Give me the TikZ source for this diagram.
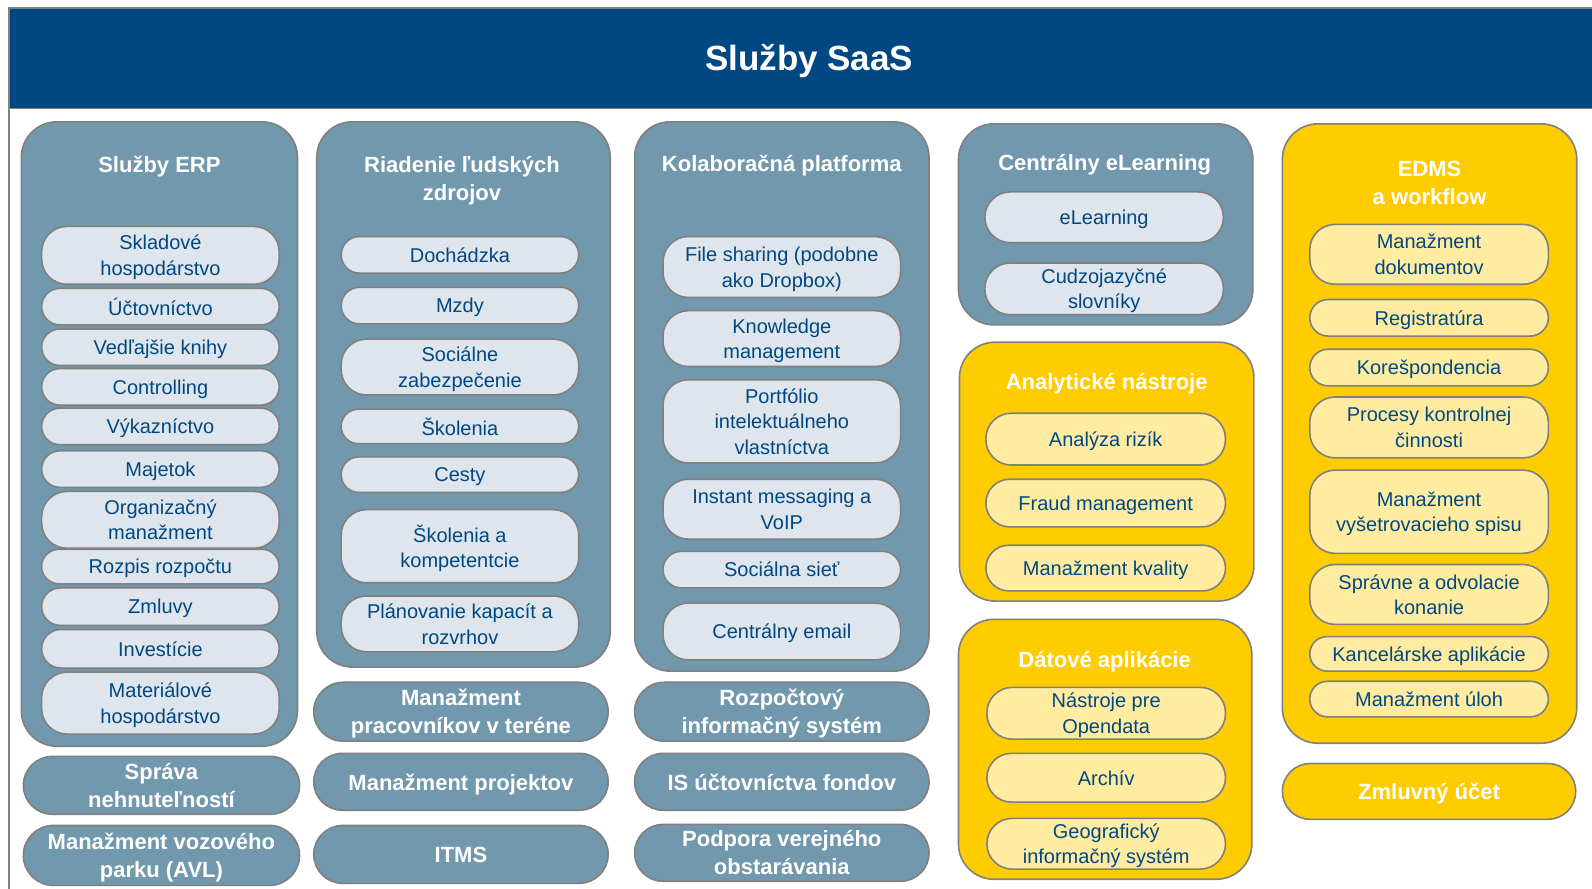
\documentclass[tikz,border=0pt]{standalone}
\usepackage{fontspec}
\setmainfont{Liberation Sans}
\definecolor{navy}{RGB}{0,72,131}
\definecolor{steel}{RGB}{114,152,173}
\definecolor{lightitem}{RGB}{222,229,236}
\definecolor{gold}{RGB}{255,204,0}
\definecolor{lightgold}{RGB}{255,236,160}
\definecolor{bord}{RGB}{128,128,128}
\definecolor{textblue}{RGB}{0,72,130}
\newcommand\bx[7]{\node[#1, minimum width={(#5-#3)*1.0153pt}, minimum height={(#6-#4)*1.0153pt}, rounded corners={min((#6-#4)/2,#7)*1.0153pt}] (#2) at ({(#3+#5)/2},{(#4+#6)/2})}
\begin{document}
\begin{tikzpicture}[x=1.0153pt,y=-1.0153pt,
  base/.style={draw=bord, line width=1.6pt, inner sep=0pt, outer sep=0pt, align=center},
  item/.style={base, fill=lightitem, text=textblue, font=\fontsize{20}{25.5}\selectfont, text depth=0pt},
  yitem/.style={item, fill=lightgold},
  cont/.style={base, fill=steel},
  ycont/.style={base, fill=gold},
  bar/.style={base, fill=steel, text=white, font=\bfseries\fontsize{22}{28}\selectfont, text depth=0pt},
  ybar/.style={bar, fill=gold},
  ttl/.style={text=white, font=\bfseries\fontsize{22}{28}\selectfont, align=center, inner sep=0pt},
  frame/.style={draw=bord, line width=1.6pt}]
\clip (0,0) rectangle (1568,875);
\fill[white] (0,0) rectangle (1568,875);
% header and frame
\coordinate (fbl) at (9,880);
\bx{base, fill=navy}{hdr}{9}{8}{1590}{107}{0} {};
\draw[frame] (hdr.north west) -- (fbl);
\node[text=white, font=\bfseries\fontsize{35}{40}\selectfont, inner sep=0pt] (htitle) at (797,60) {Služby SaaS};

% Column 1: ERP
\bx{cont}{erp}{21}{120}{293}{735}{35} {};
\node[ttl] (erpT) at (157,164) {Služby ERP};
\bx{item}{e1}{41}{223}{275}{280}{25} {Skladové\\hospodárstvo};
\bx{item}{e2}{41}{284}{275}{320}{25} {Účtovníctvo};
\bx{item}{e3}{41}{324}{275}{360}{25} {Vedľajšie knihy};
\bx{item}{e4}{41}{363}{275}{399}{25} {Controlling};
\bx{item}{e5}{41}{402}{275}{438}{25} {Výkazníctvo};
\bx{item}{e6}{41}{444}{275}{480}{25} {Majetok};
\bx{item}{e7}{41}{484}{275}{540}{25} {Organizačný\\manažment};
\bx{item}{e8}{41}{541}{275}{575}{25} {Rozpis rozpočtu};
\bx{item}{e9}{41}{579}{275}{616}{25} {Zmluvy};
\bx{item}{e10}{41}{620}{275}{658}{25} {Investície};
\bx{item}{e11}{41}{662}{275}{723}{25} {Materiálové\\hospodárstvo};
\bx{bar}{b11}{23}{745}{295}{802}{30} {Správa\\nehnuteľností};
\bx{bar}{b12}{23}{813}{295}{872}{30} {Manažment vozového\\parku (AVL)};

% Column 2: HR
\bx{cont}{hr}{312}{120}{601}{657}{35} {};
\node[ttl] (hrT) at (455,178) {Riadenie ľudských\\zdrojov};
\bx{item}{h1}{336}{233}{570}{269}{25} {Dochádzka};
\bx{item}{h2}{336}{283}{570}{319}{25} {Mzdy};
\bx{item}{h3}{336}{334}{570}{389}{25} {Sociálne\\zabezpečenie};
\bx{item}{h4}{336}{403}{570}{437}{25} {Školenia};
\bx{item}{h5}{336}{450}{570}{485}{25} {Cesty};
\bx{item}{h6}{336}{502}{570}{574}{25} {Školenia a\\kompetentcie};
\bx{item}{h7}{336}{587}{570}{642}{25} {Plánovanie kapacít a\\rozvrhov};
\bx{bar}{b21}{309}{672}{599}{730}{30} {Manažment\\pracovníkov v teréne};
\bx{bar}{b22}{309}{742}{599}{798}{30} {Manažment projektov};
\bx{bar}{b23}{309}{813}{599}{870}{30} {ITMS};

% Column 3: Kolaboracna platforma
\bx{cont}{kol}{625}{120}{915}{661}{35} {};
\node[ttl] (kolT) at (770,163) {Kolaboračná platforma};
\bx{item}{k1}{653}{233}{887}{293}{25} {File sharing (podobne\\ako Dropbox)};
\bx{item}{k2}{653}{306}{887}{361}{25} {Knowledge\\management};
\bx{item}{k3}{653}{374}{887}{456}{25} {Portfólio\\intelektuálneho\\vlastníctva};
\bx{item}{k4}{653}{472}{887}{531}{25} {Instant messaging a\\VoIP};
\bx{item}{k5}{653}{543}{887}{579}{25} {Sociálna sieť};
\bx{item}{k6}{653}{594}{887}{650}{25} {Centrálny email};
\bx{bar}{b31}{625}{672}{915}{730}{30} {Rozpočtový\\informačný systém};
\bx{bar}{b32}{625}{742}{915}{798}{30} {IS účtovníctva fondov};
\bx{bar}{b33}{625}{812}{915}{868}{30} {Podpora verejného\\obstarávania};

% Column 4
\bx{cont}{elc}{944}{122}{1234}{320}{35} {};
\node[ttl] (elT) at (1088,162) {Centrálny eLearning};
\bx{item}{l1}{970}{189}{1205}{239}{25} {eLearning};
\bx{item}{l2}{970}{259}{1205}{310}{25} {Cudzojazyčné\\slovníky};

\bx{ycont}{ana}{945}{337}{1235}{592}{35} {};
\node[ttl] (anT) at (1090,378) {Analytické nástroje};
\bx{yitem}{a1}{971}{407}{1207}{458}{25} {Analýza rizík};
\bx{yitem}{a2}{971}{472}{1207}{519}{25} {Fraud management};
\bx{yitem}{a3}{971}{537}{1207}{582}{25} {Manažment kvality};

\bx{ycont}{dat}{944}{610}{1233}{866}{35} {};
\node[ttl] (daT) at (1088,652) {Dátové aplikácie};
\bx{yitem}{d1}{972}{677}{1207}{728}{25} {Nástroje pre\\Opendata};
\bx{yitem}{d2}{972}{742}{1207}{790}{25} {Archív};
\bx{yitem}{d3}{972}{806}{1207}{856}{25} {Geografický\\informačný systém};

% Column 5: EDMS
\bx{ycont}{edm}{1263}{122}{1553}{732}{35} {};
\node[ttl] (edT) at (1408,180) {EDMS\\a workflow};
\bx{yitem}{m1}{1290}{221}{1525}{280}{25} {Manažment\\dokumentov};
\bx{yitem}{m2}{1290}{295}{1525}{331}{25} {Registratúra};
\bx{yitem}{m3}{1290}{344}{1525}{380}{25} {Korešpondencia};
\bx{yitem}{m4}{1290}{391}{1525}{451}{25} {Procesy kontrolnej\\činnosti};
\bx{yitem}{m5}{1290}{463}{1525}{545}{25} {Manažment\\vyšetrovacieho spisu};
\bx{yitem}{m6}{1290}{556}{1525}{615}{25} {Správne a odvolacie\\konanie};
\bx{yitem}{m7}{1290}{627}{1525}{661}{25} {Kancelárske aplikácie};
\bx{yitem}{m8}{1290}{671}{1525}{706}{25} {Manažment úloh};
\bx{ybar}{b51}{1263}{752}{1552}{807}{30} {Zmluvný účet};
\end{tikzpicture}
\end{document}
